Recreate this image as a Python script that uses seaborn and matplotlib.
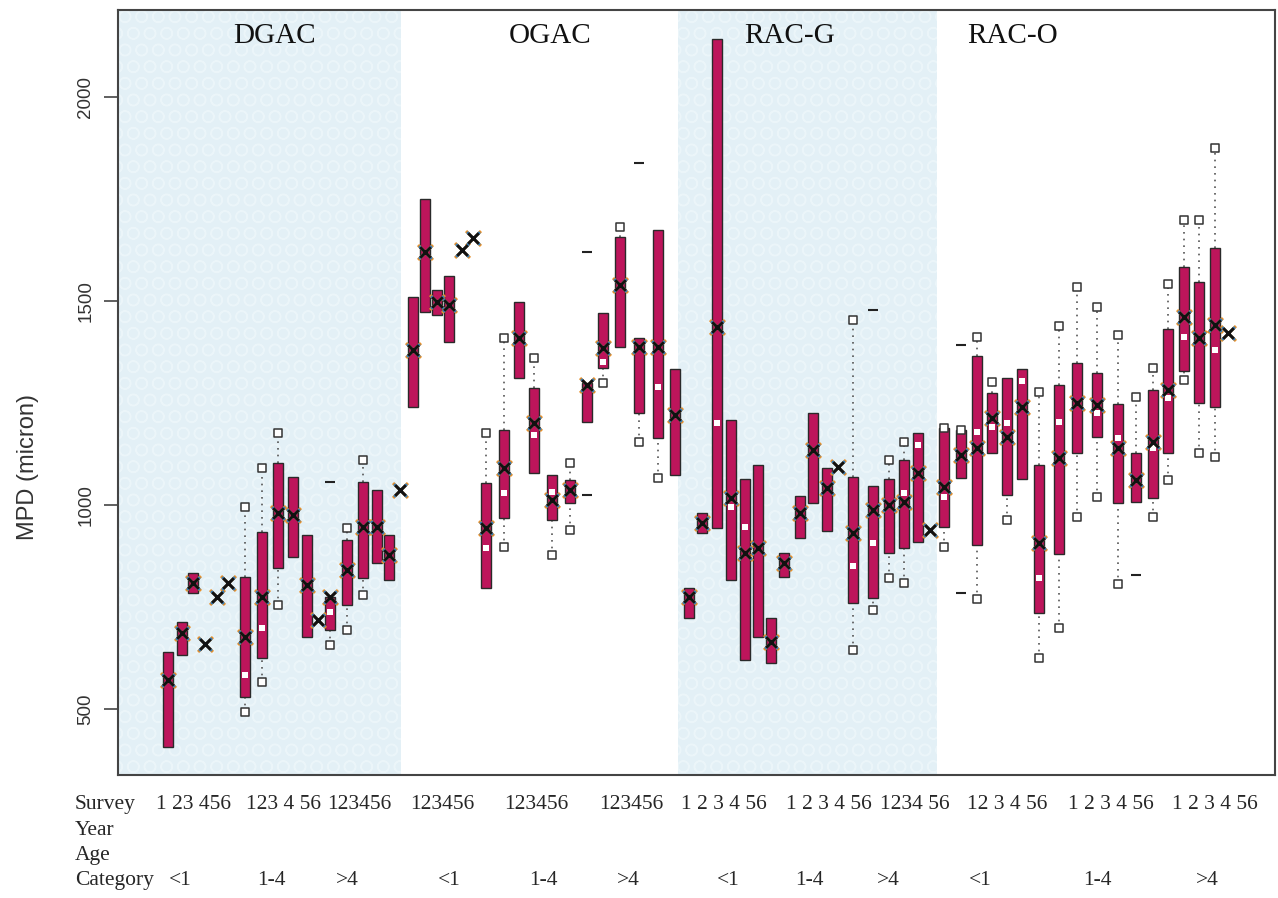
import numpy as np
import pandas as pd
import matplotlib
matplotlib.use("Agg")
import matplotlib.pyplot as plt
import seaborn as sns

nan = np.nan

# mixtures and the x range each one covers (x unit = slot position along the axis)
mixtures = ["DGAC", "OGAC", "RAC-G", "RAC-O"]
mix_span = [(0.0, 28.3), (28.3, 56.0), (56.0, 81.9), (81.9, 115.7)]
mix_label_x = [15.7, 43.2, 67.2, 89.5]

# one entry per survey box (4 mixtures x 3 age categories x 6 surveys)
pos = [5.0, 6.4, 7.5, 8.7, 9.9, 11.0, 12.7, 14.4, 16.0, 17.5, 18.9, 20.0,
       21.2, 22.9, 24.5, 25.9, 27.1, 28.2,
       29.5, 30.7, 31.9, 33.1, 34.4, 35.5, 36.8, 38.6, 40.1, 41.6, 43.4, 45.2,
       46.9, 48.5, 50.2, 52.1, 54.0, 55.7,
       57.1, 58.4, 59.9, 61.3, 62.7, 64.0, 65.3, 66.6, 68.2, 69.5, 70.9, 72.0,
       73.5, 75.5, 77.1, 78.6, 80.0, 81.2,
       82.6, 84.3, 85.9, 87.4, 88.9, 90.4, 92.1, 94.1, 95.9, 97.9, 100.0, 101.8,
       103.5, 105.0, 106.6, 108.1, 109.7, 111.0]
q1 = [407, 632, 784, nan, nan, nan, 529, 625, 846, 873, 676, nan,
      694, 755, 821, 858, 816, nan,
      1240, 1473, 1466, 1400, nan, nan, 797, 968, 1311, 1078, 963, 1005,
      1203, 1336, 1387, 1225, 1164, 1074,
      723, 931, 944, 816, 620, 676, 613, 824, 919, 1005, 936, nan,
      760, 772, 882, 895, 909, nan,
      946, 1066, 902, 1127, 1025, 1064, 735, 880, 1127, 1167, 1005, 1007,
      1017, 1127, 1328, 1250, 1240, nan]
q3 = [640, 713, 833, nan, nan, nan, 823, 934, 1103, 1069, 926, nan,
      775, 914, 1056, 1037, 926, nan,
      1510, 1750, 1527, 1561, nan, nan, 1054, 1184, 1498, 1287, 1074, 1061,
      1299, 1471, 1657, 1409, 1674, 1333,
      797, 980, 2142, 1208, 1064, 1098, 723, 882, 1022, 1225, 1091, nan,
      1069, 1047, 1064, 1110, 1176, nan,
      1189, 1184, 1365, 1275, 1311, 1333, 1098, 1294, 1348, 1324, 1248, 1127,
      1282, 1431, 1583, 1547, 1630, nan]
mean = [571, 686, 809, 659, 775, 809, 676, 775, 980, 975, 804, 718,
        775, 841, 946, 946, 877, 1037,
        1380, 1620, 1498, 1490, 1625, 1654, 944, 1091, 1409, 1201, 1012, 1037,
        1294, 1385, 1539, 1387, 1387, 1221,
        775, 956, 1436, 1017, 882, 895, 664, 858, 980, 1135, 1042, 1093,
        931, 988, 1000, 1007, 1078, 939,
        1044, 1123, 1140, 1213, 1167, 1240, 907, 1115, 1250, 1245, 1140, 1061,
        1154, 1282, 1461, 1409, 1441, 1422]
median = [nan, nan, nan, nan, nan, nan, 583, 698, nan, nan, nan, nan,
          738, nan, nan, nan, nan, nan,
          nan, nan, nan, nan, nan, nan, 895, 1029, nan, 1172, 1032, nan,
          nan, 1350, nan, nan, 1289, nan,
          nan, nan, 1201, 995, 946, nan, nan, nan, nan, nan, nan, nan,
          850, 907, nan, 1029, 1147, nan,
          1020, nan, 1179, 1191, 1201, 1304, 821, 1203, nan, 1225, 1164, nan,
          1140, 1262, 1412, nan, 1380, nan]
whisk_lo = [nan, nan, nan, nan, nan, nan, 493, 566, 755, nan, nan, nan,
            657, 694, 779, nan, nan, nan,
            nan, nan, nan, nan, nan, nan, nan, 897, nan, nan, 877, 939,
            nan, 1299, nan, 1154, 1066, nan,
            nan, nan, nan, nan, nan, nan, nan, nan, nan, nan, nan, nan,
            645, 743, 821, 809, nan, nan,
            897, nan, 770, nan, 963, nan, 625, 699, 971, 1020, 806, nan,
            971, 1061, 1306, 1127, 1118, nan]
whisk_hi = [nan, nan, nan, nan, nan, nan, 995, 1091, 1176, nan, nan, nan,
            nan, 944, 1110, nan, nan, nan,
            nan, nan, nan, nan, nan, nan, 1176, 1409, nan, 1360, nan, 1103,
            nan, nan, 1681, nan, nan, nan,
            nan, nan, nan, nan, nan, nan, nan, nan, nan, nan, nan, nan,
            1453, nan, 1110, 1154, nan, nan,
            1189, 1184, 1412, 1301, nan, nan, 1277, 1439, 1534, 1485, 1417, 1265,
            1336, 1542, 1699, 1699, 1875, nan]
outlier_hi = [nan] * 12 + [1056] + [nan] * 17 + [1620, nan, nan, 1838] + [nan] * 15 + \
             [1478] + [nan] * 5 + [1392] + [nan] * 16
outlier_lo = [nan] * 30 + [1025] + [nan] * 24 + [784] + [nan] * 9 + [828] + [nan] * 6

# text under the axis
row_names = ["Survey", "Year", "Age", "Category"]
survey_text = ["1 23 456", "123 4 56", "123456", "123456", "123456", "123456",
               "1 2 3 4 56", "1 2 3 4 56", "1234 56", "12 3 4 56", "1 2 3 4 56", "1 2 3 4 56"]
survey_x = [7.6, 16.6, 24.1, 32.4, 41.8, 51.3, 60.6, 71.1, 79.7, 88.9, 99.3, 109.7]
category_text = ["<1", "1-4", ">4"] * 4
category_x = [6.2, 15.3, 22.9, 33.1, 42.5, 51.0, 61.0, 69.1, 77.0, 86.2, 97.9, 108.9]

df = pd.DataFrame({"pos": pos, "q1": q1, "q3": q3, "mean": mean, "median": median,
                   "lo": whisk_lo, "hi": whisk_hi,
                   "out_hi": outlier_hi, "out_lo": outlier_lo})

sns.set_style("white")
plt.rcParams["font.family"] = ["Liberation Sans", "DejaVu Sans"]

fig = plt.figure(figsize=(12.78, 8.98), dpi=100)
ax = fig.add_axes([0.0923, 0.137, 0.9053, 0.852])

# shaded bands behind DGAC and RAC-G
for i, (a, b) in enumerate(mix_span):
    if i % 2 == 0:
        ax.axvspan(a, b, facecolor="#e3f0f6", edgecolor="#ebf5f9", hatch="O",
                   linewidth=0, zorder=0)

# dotted whiskers with open squares at the ends
box = df.dropna(subset=["q1"])
wl = df.dropna(subset=["lo"])
wh = df.dropna(subset=["hi"])
ax.vlines(wl["pos"], wl["lo"], wl["q1"].fillna(wl["mean"]), colors="#555555",
          linestyles=(0, (1, 3)), linewidth=1.2, zorder=2)
ax.vlines(wh["pos"], wh["q3"].fillna(wh["mean"]), wh["hi"], colors="#555555",
          linestyles=(0, (1, 3)), linewidth=1.2, zorder=2)

# boxes (interquartile range)
ax.bar(box["pos"], box["q3"] - box["q1"], bottom=box["q1"], width=1.0,
       color="#bd155b", edgecolor="#2a2a2a", linewidth=1.0, zorder=3)

ends = pd.concat([wl[["pos"]].assign(v=wl["lo"]), wh[["pos"]].assign(v=wh["hi"])])
sns.scatterplot(data=ends, x="pos", y="v", marker="s", s=28, facecolor="white",
                edgecolor="#333333", linewidth=1.1, ax=ax, zorder=4)

outs = pd.concat([df[["pos"]].assign(v=df["out_hi"]),
                  df[["pos"]].assign(v=df["out_lo"])]).dropna()
sns.scatterplot(data=outs, x="pos", y="v", marker="_", s=45, color="#222222",
                linewidth=1.5, ax=ax, zorder=4)

med = df.dropna(subset=["median"])
sns.scatterplot(data=med, x="pos", y="median", marker="s", s=20, color="white",
                linewidth=0, ax=ax, zorder=5)

# means: layered crosses
sns.scatterplot(data=df, x="pos", y="mean", marker="x", s=115, color="#e8902a",
                linewidth=2.2, ax=ax, zorder=6)
sns.scatterplot(data=df, x="pos", y="mean", marker="x", s=85, color="#3b7fb8",
                linewidth=1.9, ax=ax, zorder=7)
sns.scatterplot(data=df, x="pos", y="mean", marker="x", s=58, color="#111111",
                linewidth=2.1, ax=ax, zorder=8)

ax.set_xlim(0, 115.7)
ax.set_ylim(338, 2213)
ax.set_xticks([])
ax.set_yticks([500, 1000, 1500, 2000])
ax.tick_params(axis="y", left=True, length=10, width=1.2, color="#444444",
               pad=7, labelsize=13.5, labelcolor="#333333")
for t in ax.get_yticklabels():
    t.set_rotation(90)
    t.set_va("center")
ax.set_xlabel("")
ax.set_ylabel("MPD (micron)", fontsize=17, color="#333333")
ax.yaxis.set_label_coords(-0.068, 0.403)
for s in ax.spines.values():
    s.set_color("#444444")
    s.set_linewidth(1.5)

serif = ["Liberation Serif", "DejaVu Serif"]
for name, x in zip(mixtures, mix_label_x):
    ax.text(x, 0.966, name, transform=ax.get_xaxis_transform(), ha="center",
            va="center", fontsize=21, family=serif, color="#111111")

trans = ax.get_xaxis_transform()
row_y = [-0.039, -0.072, -0.105, -0.138]
for name, y in zip(row_names, row_y):
    ax.text(-4.3, y, name, transform=trans, ha="left", va="center",
            fontsize=15.5, family=serif, clip_on=False)
for txt, x in zip(survey_text, survey_x):
    ax.text(x, row_y[0], txt, transform=trans, ha="center", va="center",
            fontsize=15.5, family=serif, clip_on=False)
for txt, x in zip(category_text, category_x):
    ax.text(x, row_y[3], txt, transform=trans, ha="center", va="center",
            fontsize=15.5, family=serif, clip_on=False)

fig.savefig("out.png", dpi=100)
